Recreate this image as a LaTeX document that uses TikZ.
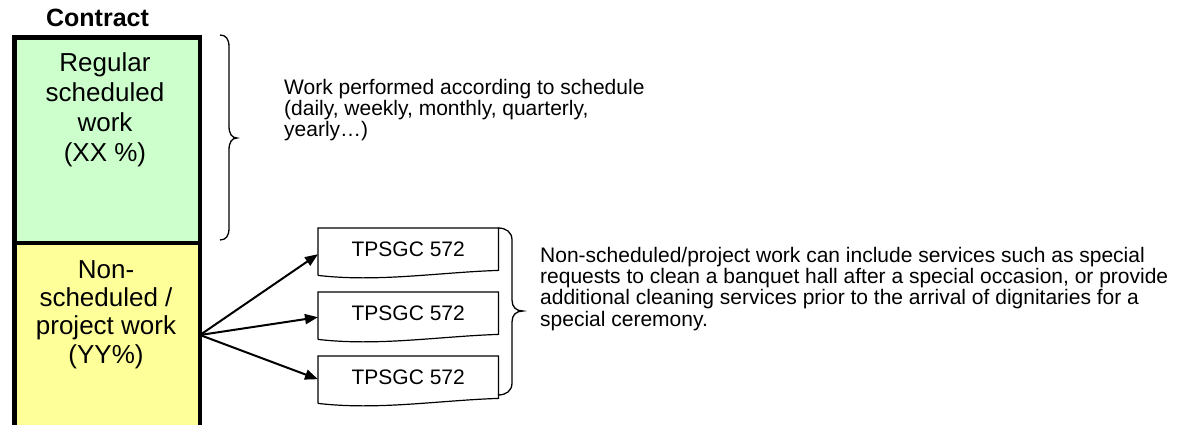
\documentclass[tikz,border=0pt]{standalone}
\usepackage{fontspec}
\setmainfont{Liberation Sans}
\usetikzlibrary{arrows.meta,calc}
\definecolor{schedgreen}{HTML}{CCFFCC}
\definecolor{projyellow}{HTML}{FFFF99}
\begin{document}
\begin{tikzpicture}[x=1pt,y=-1pt,
  frame/.style={draw=black,line width=4.5pt,inner sep=0pt,anchor=north west,minimum width=185.5pt},
  boxtext/.style={align=center,inner sep=0pt,anchor=base},
  note/.style={font=\fontsize{21}{21.4}\selectfont,align=left,inner sep=0pt,anchor=base west},
  doc/.style={minimum width=180pt,minimum height=42pt,inner sep=0pt,anchor=north west,font=\fontsize{21}{24}\selectfont},
  docedge/.style={draw=black,line width=1.2pt},
  fanarrow/.style={line width=2pt,-{Triangle[length=13pt,width=10pt]}},
  bracket/.style={line width=1.3pt}]
\clip (0,0) rectangle (1181,425);

% contract column: scheduled part on top, project part below
\node[frame,fill=projyellow,minimum height=220pt] (non) at (12,240.5) {};
\node[frame,fill=schedgreen,minimum height=205pt] (reg) at (12,35.5) {};
\node[font=\bfseries\fontsize{25}{30}\selectfont,inner sep=0pt,anchor=base] (title) at (97.5,27) {Contract};
% multi-line texts are placed by the baseline of their last line
\node[boxtext,font=\fontsize{26}{30}\selectfont] (regtxt) at (105,162) {Regular\\scheduled\\work\\(XX \%)};
\node[boxtext,font=\fontsize{26}{28.3}\selectfont] (nontxt) at (106,363) {Non-\\scheduled /\\project work\\(YY\%)};

% brace and note for the scheduled work
\draw[bracket] (220,35) .. controls (226,35) and (229,39) .. (229,47) -- (229,126)
  .. controls (229,134) and (232,138) .. (237,138)
  .. controls (232,138) and (229,142) .. (229,150) -- (229,228)
  .. controls (229,236) and (226,240) .. (220,240);
\node[note] (sched) at (284,136.8) {Work performed according to schedule\\(daily, weekly, monthly, quarterly,\\yearly…)};

% project documents
\node[doc] (d1) at (318,228) {TPSGC 572};
\node[doc] (d2) at (318,292) {TPSGC 572};
\node[doc] (d3) at (318,356) {TPSGC 572};
\foreach \d in {d1,d2,d3}
  \draw[docedge] ($(\d.south west)+(0,5)$) -- (\d.north west) -- (\d.north east) -- (\d.south east)
    .. controls ($(\d.south east)+(-60,2)$) and ($(\d.south west)+(60,12)$) .. ($(\d.south west)+(0,5)$);

\coordinate (fan) at (200,335);
\draw[fanarrow] (fan) -- ([yshift=-5pt]d1.west);
\draw[fanarrow] (fan) -- ([yshift=-4pt]d2.west);
\draw[fanarrow] (fan) -- ([yshift=-2pt]d3.west);

% brace and note for the project work
\draw[bracket] (498,228) .. controls (506,228) and (512,232) .. (512,240) -- (512,300)
  .. controls (512,307) and (516,311) .. (523,311)
  .. controls (516,311) and (512,315) .. (512,322) -- (512,383)
  .. controls (512,391) and (506,395) .. (498,395);
\node[note] (proj) at (540,326.2) {Non-scheduled/project work can include services such as special\\requests to clean a banquet hall after a special occasion, or provide\\additional cleaning services prior to the arrival of dignitaries for a\\special ceremony.};
\end{tikzpicture}
\end{document}
